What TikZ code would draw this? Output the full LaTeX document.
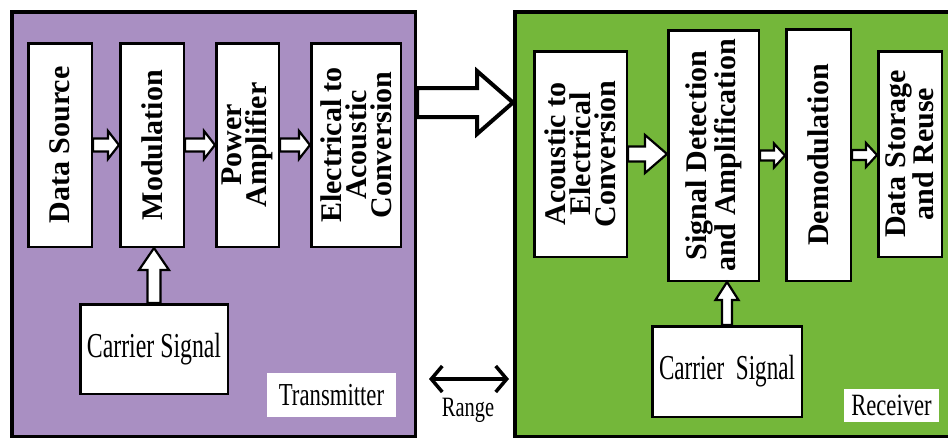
\documentclass[tikz,border=0pt]{standalone}
\usepackage{fontspec}
\setmainfont{Liberation Serif}
\usepackage{graphicx}
\usetikzlibrary{calc,arrows.meta}

\definecolor{txpurple}{RGB}{169,143,194}
\definecolor{rxgreen}{RGB}{116,183,58}

\newcommand{\htext}[2][0.7]{\scalebox{#1}[1]{#2}}

% hollow block arrows: [opts]{from}{to}{shaft half width}{head half width}{head length}
\newcommand{\rarrow}[6][]{%
  \draw[hollow,#1] let \p1=(#2), \p2=(#3) in
    (\x1,\y1+#4pt) -- (\x2-#6pt,\y1+#4pt) -- (\x2-#6pt,\y1+#5pt) -- (\x2,\y1)
    -- (\x2-#6pt,\y1-#5pt) -- (\x2-#6pt,\y1-#4pt) -- (\x1,\y1-#4pt) -- cycle;}
\newcommand{\uarrow}[6][]{%
  \draw[hollow,#1] let \p1=(#2), \p2=(#3) in
    (\x1-#4pt,\y1) -- (\x1-#4pt,\y2-#6pt) -- (\x1-#5pt,\y2-#6pt) -- (\x1,\y2)
    -- (\x1+#5pt,\y2-#6pt) -- (\x1+#4pt,\y2-#6pt) -- (\x1+#4pt,\y1) -- cycle;}

\tikzset{
  panel/.style={draw, line width=3.5pt, inner sep=0pt},
  blockbox/.style={draw, fill=white, line width=2.5pt, inner sep=0pt},
  vlabel/.style={rotate=90, align=center, inner sep=0pt,
    font=\fontsize{30}{25}\selectfont\bfseries},
  carrierbox/.style={draw, fill=white, line width=2.5pt, inner sep=0pt,
    font=\fontsize{35}{40}\selectfont},
  tag/.style={fill=white, inner sep=0pt, font=\fontsize{32}{36}\selectfont},
  hollow/.style={draw, fill=white, line width=2.2pt},
  rangearrow/.style={{Straight Barb[length=11pt,width=26pt]}-{Straight Barb[length=11pt,width=26pt]},
    line width=3.5pt}
}

\begin{document}
\begin{tikzpicture}[x=1pt,y=-1pt]
\path[use as bounding box, fill=white] (0,0) rectangle (948,440);

% the two panels
\node[panel, fill=txpurple, minimum width=403.5pt, minimum height=424.5pt] (tx) at (213.5,224) {};
\node[panel, fill=rxgreen, minimum width=470pt, minimum height=424.5pt] (rx) at (749.75,224) {};

% transmitter
\node[blockbox, minimum width=63.5pt, minimum height=203.5pt,
  label={[vlabel]center:Data Source}] (dsrc) at (60,145) {};
\node[blockbox, minimum width=63.5pt, minimum height=203.5pt,
  label={[vlabel]center:Modulation}] (modu) at (152,145) {};
\node[blockbox, minimum width=62.5pt, minimum height=203.5pt,
  label={[vlabel]center:Power\\Amplifier}] (pamp) at (247.5,145) {};
\node[blockbox, minimum width=89.5pt, minimum height=203.5pt,
  label={[vlabel]center:Electrical to\\Acoustic\\Conversion}] (econv) at (356,145) {};
\node[carrierbox, minimum width=147.5pt, minimum height=89.5pt] (tcarr) at (154,349) {\htext[0.68]{Carrier Signal}};
\node[tag, minimum width=129pt, minimum height=44pt] (tlabel) at (331.5,395) {\htext[0.71]{Transmitter}};

\rarrow{dsrc.east}{modu.west}{6.5}{14}{11}
\rarrow{modu.east}{pamp.west}{6.5}{14}{11}
\rarrow{pamp.east}{econv.west}{6.5}{14}{11}
\uarrow{tcarr.north}{tcarr.north |- modu.south}{6.5}{15}{22}

% receiver
\node[blockbox, minimum width=92.5pt, minimum height=205.5pt,
  label={[vlabel]center:Acoustic to\\Electrical\\Conversion}] (aconv) at (580.5,154) {};
\node[blockbox, minimum width=90.5pt, minimum height=250.5pt,
  label={[vlabel]center:Signal Detection\\and Amplification}] (sdet) at (713.5,155.5) {};
\node[blockbox, minimum width=64.5pt, minimum height=251.5pt,
  label={[vlabel]center:Demodulation}] (demod) at (818.5,155) {};
\node[blockbox, minimum width=63.5pt, minimum height=205.5pt,
  label={[vlabel]center:Data Storage\\and Reuse}] (dstore) at (910,154) {};
\node[carrierbox, minimum width=149.5pt, minimum height=90.5pt] (rcarr) at (727,371.5) {\htext[0.66]{Carrier\ \ Signal}};
\node[tag, minimum width=95pt, minimum height=33pt, font=\fontsize{31}{36}\selectfont] (rlabel) at (891.5,405.5) {\htext[0.73]{Receiver}};

\rarrow{aconv.east}{sdet.west}{7.5}{19}{22}
\rarrow{sdet.east}{demod.west}{5}{12}{11}
\rarrow{demod.east}{dstore.west}{5}{12}{11}
\uarrow{rcarr.north}{rcarr.north |- sdet.south}{5}{11.5}{18}

% link and range
\coordinate (link) at (465,102.5);
\rarrow[line width=4pt]{tx.east |- link}{rx.west |- link}{14.5}{31.5}{36}
\coordinate (rngl) at (429,379);
\coordinate (rngr) at (509,379);
\draw[rangearrow] (rngl) -- (rngr);
\node[font=\fontsize{28}{30}\selectfont, anchor=base] (range) at (468,416) {\htext[0.73]{Range}};

\end{tikzpicture}
\end{document}
